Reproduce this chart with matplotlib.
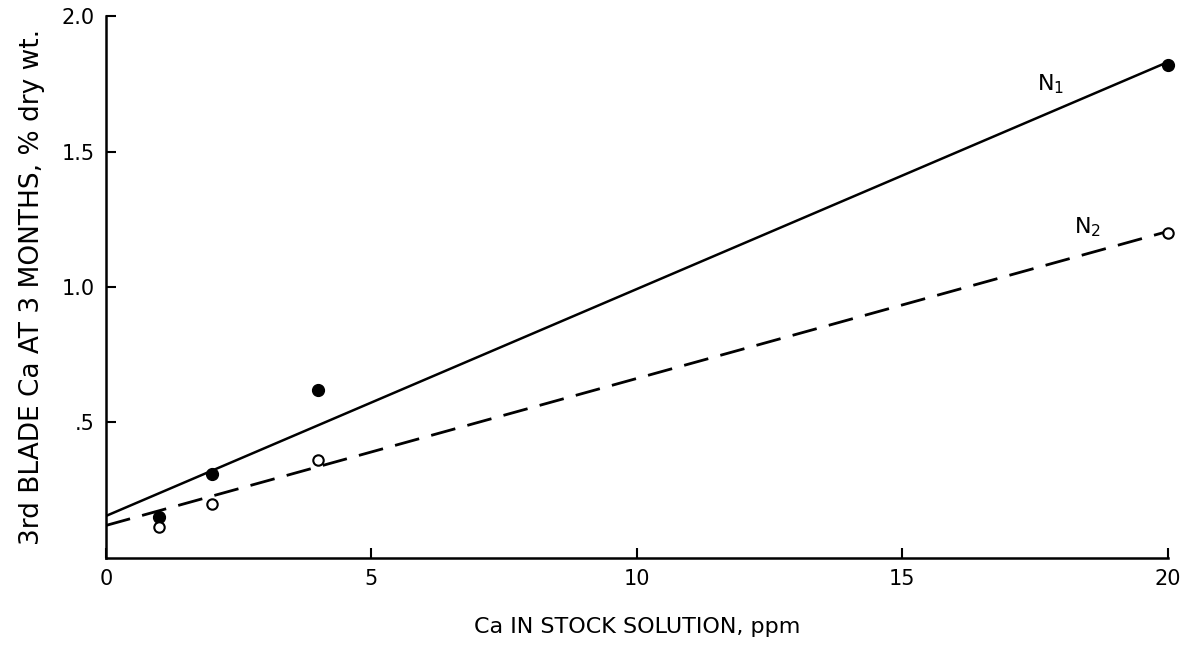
import matplotlib
matplotlib.use("Agg")
import matplotlib.pyplot as plt

# Ca in stock solution, ppm
ca_ppm = [1, 2, 4, 20]
# 3rd blade Ca at 3 months, % dry wt.
n1_pts = [0.15, 0.31, 0.62, 1.82]
n2_pts = [0.115, 0.20, 0.36, 1.20]

# fitted lines (end points)
line_x = [0, 20]
n1_line = [0.155, 1.83]
n2_line = [0.12, 1.205]

xticks = [0, 5, 10, 15, 20]
xticklabels = ["0", "5", "10", "15", "20"]
yticks = [0.5, 1.0, 1.5, 2.0]
yticklabels = [".5", "1.0", "1.5", "2.0"]

fig = plt.figure(figsize=(11.81, 6.47), dpi=100)
ax = fig.add_axes([0.0897, 0.1376, 0.899, 0.8376])

ax.plot(line_x, n1_line, color="black", lw=1.8, solid_capstyle="butt")
ax.plot(line_x, n2_line, color="black", lw=2.0, linestyle=(0, (9, 4.5)))

ax.plot(ca_ppm, n1_pts, "o", color="black", markersize=8.5, clip_on=False)
ax.plot(ca_ppm, n2_pts, "o", markerfacecolor="white", markeredgecolor="black",
        markersize=7.5, markeredgewidth=1.5, clip_on=False)

ax.text(17.8, 1.75, r"$\mathregular{N_1}$", fontsize=16, ha="center", va="center")
ax.text(18.5, 1.22, r"$\mathregular{N_2}$", fontsize=16, ha="center", va="center")

ax.set_xlim(0, 20)
ax.set_ylim(0, 2.0)
ax.set_xticks(xticks)
ax.set_xticklabels(xticklabels)
ax.set_yticks(yticks)
ax.set_yticklabels(yticklabels)

for s in ["top", "right"]:
    ax.spines[s].set_visible(False)
for s in ["left", "bottom"]:
    ax.spines[s].set_linewidth(1.8)

ax.tick_params(direction="in", length=7, width=1.5, labelsize=15, pad=8)

ax.set_xlabel("Ca IN STOCK SOLUTION, ppm", fontsize=16, labelpad=20)
ax.set_ylabel("3rd BLADE Ca AT 3 MONTHS, % dry wt.", fontsize=19, labelpad=12)

fig.savefig("out.png", dpi=100)
